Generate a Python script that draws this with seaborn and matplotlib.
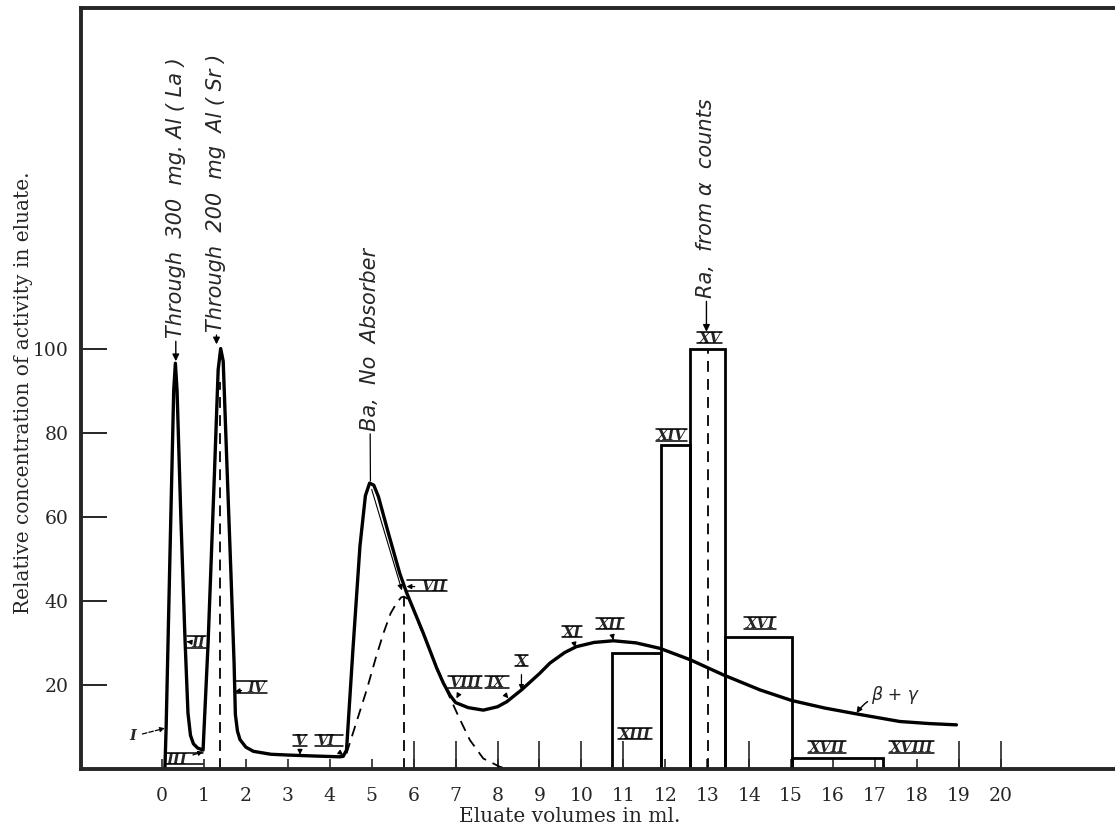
import numpy as np
import pandas as pd
import matplotlib
matplotlib.use("Agg")
import matplotlib.pyplot as plt
from matplotlib.lines import Line2D
import seaborn as sns

# main (solid) activity curve
curve_x = [0.07, 0.10, 0.20, 0.28, 0.32, 0.36, 0.45, 0.55, 0.62, 0.68, 0.75, 0.85, 0.98,
           1.10, 1.25, 1.34, 1.40, 1.46, 1.55, 1.65, 1.72, 1.75, 1.80, 1.86, 2.00, 2.18,
           2.60, 3.05, 3.60, 4.24, 4.32, 4.40, 4.55, 4.72, 4.85, 4.95, 5.05, 5.16, 5.40,
           5.67, 5.83, 6.23, 6.55, 6.71, 6.87, 7.00, 7.30, 7.66, 8.00, 8.22, 8.57, 9.00,
           9.25, 9.60, 9.88, 10.30, 10.76, 11.30, 11.87, 12.59, 13.38, 14.26, 15.01,
           15.80, 16.56, 17.59, 18.30, 18.94]
curve_y = [0, 10, 55, 90, 96.5, 90, 60, 30.7, 13.3, 8.0, 6.0, 5.0, 4.5,
           30, 70, 95, 100, 97, 72, 45, 25, 13, 9, 7, 5.2, 4.2,
           3.5, 3.3, 3.1, 2.9, 3.0, 4.5, 28, 53, 65, 68, 67.5, 64.8, 56,
           46.5, 42, 32.3, 24, 20.4, 17.5, 15.8, 14.6, 14.0, 14.8, 16.0, 18.8, 22.7,
           25.2, 27.7, 29.1, 30.1, 30.5, 30.0, 28.7, 26.0, 22.4, 18.8, 16.3,
           14.5, 13.1, 11.3, 10.8, 10.5]

# dashed component under the Ba peak (VII)
comp_x = [4.40, 4.60, 4.88, 5.10, 5.28, 5.45, 5.59, 5.70, 5.77, 5.90, 6.23, 6.71, 7.07,
          7.34, 7.66, 8.06, 8.30]
comp_y = [3.7, 10, 18.8, 26.5, 32.3, 37, 39.4, 40.8, 41, 40.2, 32, 20.4, 12.5,
          6.9, 2.5, 0.5, 0]

# fractions XIII..XVII (Ra from alpha counts)
bar_edges = [10.74, 11.90, 12.60, 13.42, 15.03, 17.20]
bar_heights = [27.5, 77, 100, 31.5, 2.5]

# dashed verticals under the peaks
drop_x = [1.38, 5.77, 13.02]
drop_top = [92, 41, 100]

x_ticks = list(range(0, 21))
long_ticks = [6, 7, 8, 9, 10, 11, 14, 19, 20]
y_ticks = [20, 40, 60, 80, 100]

sns.set_style("ticks")
plt.rcParams["font.family"] = ["DejaVu Serif"]

fig = plt.figure(figsize=(11.15, 8.31), dpi=100)
ax = fig.add_axes([81 / 1115, 62 / 831, 1034 / 1115, 761 / 831])

curve = pd.DataFrame({"x": curve_x, "y": curve_y})
sns.lineplot(data=curve, x="x", y="y", sort=False, estimator=None,
             color="black", lw=2.4, ax=ax)
sns.lineplot(x=comp_x, y=comp_y, sort=False, estimator=None, color="black",
             lw=1.3, ax=ax, linestyle=(0, (6, 4)))

centers = [(a + b) / 2 for a, b in zip(bar_edges[:-1], bar_edges[1:])]
sns.histplot(x=centers, weights=bar_heights, bins=bar_edges, element="bars",
             fill=False, color="black", edgecolor="black", linewidth=2.0, ax=ax)

ax.vlines(drop_x, 0, drop_top, colors="black", lw=1.3, linestyles=(0, (6, 4)))

ax.set_xlim(-1.93, 22.72)
ax.set_ylim(0, 181)

for side in ["left", "top", "bottom"]:
    ax.spines[side].set_linewidth(2.8)
ax.spines["right"].set_visible(False)

ax.set_xticks(x_ticks)
ax.set_xticklabels([str(t) for t in x_ticks], fontsize=13.5)
ax.xaxis.remove_overlapping_locs = False
ax.set_xticks(long_ticks, minor=True)
ax.tick_params(axis="x", which="major", direction="in", length=7, width=1.2, pad=13)
ax.tick_params(axis="x", which="minor", direction="in", length=20, width=1.2)
ax.set_yticks(y_ticks)
ax.set_yticklabels([str(t) for t in y_ticks], fontsize=13.5)
ax.tick_params(axis="y", direction="in", length=19, width=1.4, pad=9)
ax.tick_params(top=False, right=False)

ax.set_xlabel("Eluate volumes in ml.", fontsize=14.5)
ax.set_ylabel("Relative concentration of activity in eluate.", fontsize=14.5)
ax.xaxis.set_label_coords(0.473, -0.050)
ax.yaxis.set_label_coords(-0.046, 0.495)

# hand-lettered notes
note = dict(family="DejaVu Sans", style="oblique", fontsize=15, rotation=90,
            ha="center", va="bottom")
arr = dict(arrowstyle="-|>", color="black", lw=1.0, mutation_scale=10,
           shrinkA=0, shrinkB=0)
ax.annotate("Through  300  mg. Al ( La )", xy=(0.33, 97), xytext=(0.33, 102.5),
            arrowprops=arr, **note)
ax.annotate("Through  200  mg  Al ( Sr )", xy=(1.30, 101), xytext=(1.30, 104),
            arrowprops=arr, **note)
ax.annotate("Ra,  from α  counts", xy=(12.98, 104), xytext=(12.98, 112),
            arrowprops=arr, **note)
ax.annotate("Ba,  No  Absorber", xy=(4.97, 68.5), xytext=(4.95, 80.5),
            arrowprops=dict(arrowstyle="-", color="black", lw=0.9, shrinkA=0, shrinkB=0),
            **note)
ax.annotate("", xy=(5.72, 42.5), xytext=(5.0, 66.5),
            arrowprops=dict(arrowstyle="-|>", color="black", lw=0.8, mutation_scale=8,
                            shrinkA=0, shrinkB=0))
ax.annotate("β + γ", xy=(16.56, 13.3), xytext=(16.9, 17.5),
            family="DejaVu Sans", style="oblique", fontsize=12.5, ha="left", va="center",
            arrowprops=dict(arrowstyle="-|>", color="black", lw=1.0, mutation_scale=8,
                            shrinkA=0, shrinkB=0, connectionstyle="arc3,rad=0.3"))

# fraction numbers, lettered with a bar above and below
roman = dict(family="DejaVu Serif", style="italic", weight="bold", fontsize=10.5,
             ha="center", va="baseline")
small = dict(arrowstyle="-|>", color="black", lw=0.9, mutation_scale=7,
             shrinkA=2, shrinkB=0)
labelled = [
    ("I", (-0.69, 6.8), (0.07, 9.7)),
    ("II", (0.87, 29.0), (0.59, 30.3)),
    ("III", (0.35, 1.2), (0.98, 4.1)),
    ("IV", (2.26, 18.3), (1.74, 18.4)),
    ("V", (3.29, 5.6), (3.29, 3.4)),
    ("VI", (3.89, 5.6), (4.32, 3.3)),
    ("VII", (6.47, 42.4), (5.83, 43.4)),
    ("VIII", (7.22, 19.5), (7.02, 16.8)),
    ("IX", (7.94, 19.5), (8.26, 16.8)),
    ("X", (8.57, 24.6), (8.57, 18.8)),
    ("XI", (9.77, 31.4), (9.85, 28.9)),
    ("XII", (10.68, 33.3), (10.76, 30.7)),
]
texts = []
for txt, pos, tip in labelled:
    ap = dict(small)
    if txt == "I":
        ap["linestyle"] = "--"
    texts.append(ax.annotate(txt, xy=tip, xytext=pos, arrowprops=ap, **roman))

for txt, pos in [("XIII", (11.28, 7.2)), ("XIV", (12.15, 78.2)), ("XV", (13.06, 101.4)),
                 ("XVI", (14.26, 33.5)), ("XVII", (15.85, 4.0)), ("XVIII", (17.87, 4.0))]:
    texts.append(ax.text(pos[0], pos[1], txt, **roman))

fig.canvas.draw()
rend = fig.canvas.get_renderer()
W, H = fig.bbox.width, fig.bbox.height
em = roman["fontsize"] * fig.dpi / 72
for t in texts:
    if t.get_text() == "I":
        continue
    bb = t.get_window_extent(rend)
    base = ax.transData.transform(t.get_position() if not hasattr(t, "xyann") else t.xyann)[1]
    x0, x1 = bb.x0 - 1, bb.x1 + 1
    for yy in (base - 0.5, base + 0.74 * em):
        fig.add_artist(Line2D([x0 / W, x1 / W], [yy / H, yy / H], color="black",
                              lw=1.1, transform=fig.transFigure))

fig.savefig("out.png", dpi=100)
